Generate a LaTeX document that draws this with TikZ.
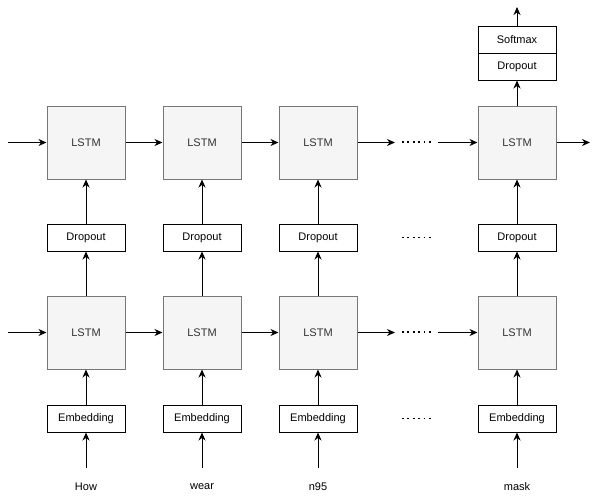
\documentclass[tikz,border=0pt]{standalone}
\usepackage{fontspec}
\setmainfont{Liberation Sans}
\usetikzlibrary{arrows.meta}
\definecolor{lstmfill}{HTML}{F5F5F5}
\definecolor{lstmedge}{HTML}{777777}
\definecolor{lstmtext}{HTML}{333333}

\begin{document}
\begin{tikzpicture}[x=1pt,y=-1pt,line width=1pt,
    >={Stealth[length=8pt,width=7pt,inset=2.5pt]},
    font=\fontsize{11}{13}\selectfont,
    cell/.style={draw=lstmedge,fill=lstmfill,text=lstmtext,minimum width=78pt,minimum height=73pt,inner sep=0pt},
    layer/.style={draw,fill=white,minimum width=78pt,minimum height=27pt,inner sep=0pt},
    dotrow/.style={line width=1.7pt,dash pattern=on 1.7pt off 3.7pt}]

            \useasboundingbox (0,0) rectangle (599,498);

            \foreach \i/\x/\w in {1/86/How,2/202/wear,3/318/n95,4/517/mask} {
                \node[cell] (up\i) at (\x,142.5) {LSTM};
                \node[layer] (drop\i) at (\x,237.5) {Dropout};
                \node[cell] (low\i) at (\x,332.5) {LSTM};
                \node[layer] (emb\i) at (\x,418.5) {Embedding};
                \node (word\i) at (\x,487) {\w};
                \coordinate (in\i) at (\x,468);

                \draw[->] (in\i) -- (emb\i);
                \draw[->] (emb\i) -- (low\i);
                \draw[->] (low\i) -- (drop\i);
                \draw[->] (drop\i) -- (up\i);
            }

            % head on the last step
            \node[layer] (soft) at (517,39.5) {Softmax};
            \node[layer] (drop5) at (517,66.5) {Dropout};
            \coordinate (out) at (517,7);
            \draw[->] (up4) -- (drop5);
            \draw[->] (soft) -- (out);

            % recurrent links
            \coordinate (upin) at (8,142.5);
            \coordinate (upout) at (590,142.5);
            \coordinate (lowin) at (8,332.5);
            \coordinate (upgapA) at (395,142.5);
            \coordinate (upgapB) at (438,142.5);
            \coordinate (lowgapA) at (395,332.5);
            \coordinate (lowgapB) at (438,332.5);

            \draw[->] (upin) -- (up1);
            \draw[->] (up1) -- (up2);
            \draw[->] (up2) -- (up3);
            \draw[->] (up3) -- (upgapA);
            \draw[->] (upgapB) -- (up4);
            \draw[->] (up4) -- (upout);

            \draw[->] (lowin) -- (low1);
            \draw[->] (low1) -- (low2);
            \draw[->] (low2) -- (low3);
            \draw[->] (low3) -- (lowgapA);
            \draw[->] (lowgapB) -- (low4);

            % skipped steps
            \foreach \y in {142,237.5,332,418.5}
                \draw[dotrow] (402,\y) -- (432,\y);

\end{tikzpicture}
\end{document}
